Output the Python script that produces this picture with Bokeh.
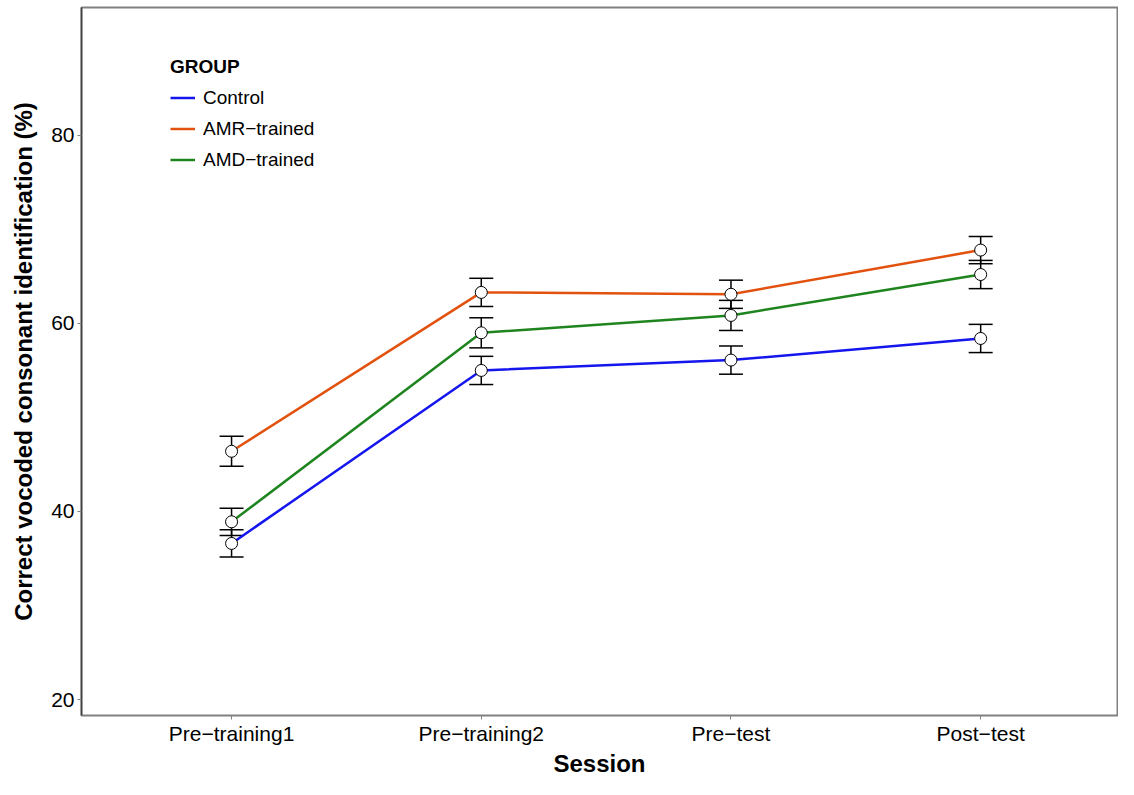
from bokeh.plotting import figure
from bokeh.models import (Range1d, Whisker, TeeHead, ColumnDataSource,
                          Legend, LegendItem, FixedTicker)
from bokeh.embed import file_html
from bokeh.resources import INLINE

sessions = ["Pre\u2212training1", "Pre\u2212training2", "Pre\u2212test", "Post\u2212test"]
groups = ["Control", "AMR\u2212trained", "AMD\u2212trained"]
control_mean = [36.6, 55.0, 56.1, 58.4]
control_se = [1.45, 1.5, 1.5, 1.5]
amr_mean = [46.4, 63.3, 63.1, 67.8]
amr_se = [1.6, 1.5, 1.5, 1.45]
amd_mean = [38.9, 59.0, 60.85, 65.2]
amd_se = [1.45, 1.6, 1.6, 1.5]
y_ticks = [20, 40, 60, 80]

colors = ["#1515EE", "#E2520E", "#1E841E"]
FONT = "Liberation Sans"

# session positions on the axis (1..n), labelled with the session names
x_pos = [i + 1 for i in range(len(sessions))]

p = figure(width=1118, height=779, output_backend="svg", toolbar_location=None,
           x_range=Range1d(0.399, 4.548),
           y_range=Range1d(18.3, 93.6),
           min_border_left=81, min_border_right=1, min_border_top=7, min_border_bottom=60)

p.xgrid.visible = False
p.ygrid.visible = False
p.outline_line_color = "#808080"
p.outline_line_width = 2
p.background_fill_color = "white"
p.border_fill_color = "white"

for ax in (p.xaxis[0], p.yaxis[0]):
    ax.major_tick_line_color = "#808080"
    ax.major_tick_out = 4
    ax.major_tick_in = 0
    ax.minor_tick_line_color = None
    ax.major_label_text_font = FONT
    ax.major_label_text_font_size = "21px"
    ax.major_label_text_color = "black"
    ax.axis_label_text_font = FONT
    ax.axis_label_text_font_style = "bold"
    ax.axis_label_text_font_size = "24px"
    ax.axis_label_text_color = "black"

p.xaxis.axis_line_color = None
p.yaxis.axis_line_color = "#404040"
p.yaxis.axis_line_width = 1.5
p.yaxis.ticker = FixedTicker(ticks=y_ticks)
p.xaxis.ticker = FixedTicker(ticks=x_pos)
p.xaxis.major_label_overrides = {x: s for x, s in zip(x_pos, sessions)}
p.yaxis.major_label_standoff = 3
p.xaxis.major_label_standoff = 2
p.xaxis.axis_label = "Session"
p.yaxis.axis_label = "Correct vocoded consonant identification (%)"
p.xaxis.axis_label_standoff = 2
p.yaxis.axis_label_standoff = 11

series = [control_mean, amr_mean, amd_mean]
ses = [control_se, amr_se, amd_se]

items = []
for name, mean, se, col in zip(groups, series, ses, colors):
    src = ColumnDataSource(dict(x=x_pos, y=mean,
                                upper=[m + s for m, s in zip(mean, se)],
                                lower=[m - s for m, s in zip(mean, se)]))
    w = Whisker(base="x", upper="upper", lower="lower", source=src,
                line_color="black", line_width=1.5, level="underlay",
                upper_head=TeeHead(size=24, line_color="black", line_width=1.5),
                lower_head=TeeHead(size=24, line_color="black", line_width=1.5))
    p.add_layout(w)
    r = p.line("x", "y", source=src, line_color=col, line_width=2.5)
    items.append(LegendItem(label=name, renderers=[r]))

for name, mean in zip(groups, series):
    p.scatter(x=x_pos, y=mean, size=12, fill_color="white",
              line_color="black", line_width=1)

legend = Legend(items=items, location=(89, 540), title="GROUP",
                title_text_font=FONT, title_text_font_style="bold",
                title_text_font_size="19px", title_text_color="black",
                title_standoff=4,
                label_text_font=FONT, label_text_font_size="19px",
                label_text_color="black",
                glyph_width=25, glyph_height=31, label_height=31,
                label_standoff=8, spacing=0, padding=0, margin=0,
                border_line_color=None, background_fill_alpha=0)
p.add_layout(legend)

open("out.html", "w").write(file_html(p, INLINE))
